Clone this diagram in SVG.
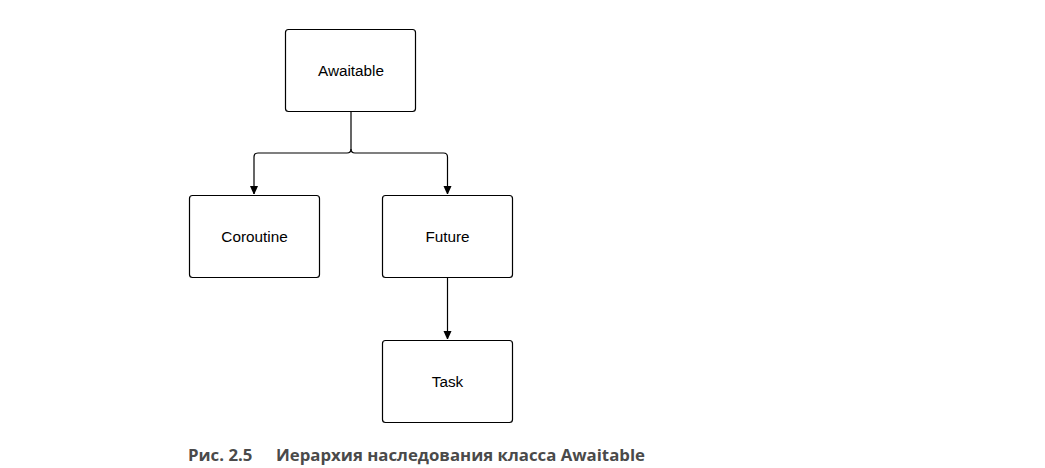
<svg xmlns="http://www.w3.org/2000/svg" width="1045" height="468" viewBox="0 0 1045 468">
<style>
.box{fill:#fff;stroke:#000;stroke-width:1.2}
.lbl{font-family:"Liberation Sans",Arial,sans-serif;font-size:15.3px;fill:#000;text-anchor:middle}
.edge{fill:none;stroke:#000;stroke-width:1.2}
.cap{font-family:"Open Sans","Noto Sans",sans-serif;font-weight:bold;font-size:16.8px;fill:#4a4a4a}
</style>
<defs>
<marker id="arr" markerWidth="8" markerHeight="12" refX="8" refY="5" orient="auto" markerUnits="userSpaceOnUse">
<path d="M0,1 L9,5 L0,9 Z" fill="#000"/>
</marker>
</defs>
<rect width="1045" height="468" fill="#fff"/>
<g id="connectors">
<path class="edge" d="M351,111 V149 Q351,153 347,153 H258 Q254,153 254,157 V194" marker-end="url(#arr)"/>
<path class="edge" d="M351,149 Q351,153 355,153 H443.5 Q447.5,153 447.5,157 V194" marker-end="url(#arr)"/>
<path class="edge" d="M447.5,277 V339" marker-end="url(#arr)"/>
</g>
<g id="awaitable"><rect class="box" x="285.5" y="29.5" width="130" height="82" rx="3"/><text class="lbl" x="351" y="76">Awaitable</text></g>
<g id="coroutine"><rect class="box" x="189.5" y="195.5" width="130" height="82" rx="3"/><text class="lbl" x="254.5" y="242">Coroutine</text></g>
<g id="future"><rect class="box" x="382.5" y="195.5" width="130" height="82" rx="3"/><text class="lbl" x="447.5" y="242">Future</text></g>
<g id="task"><rect class="box" x="382.5" y="340.5" width="130" height="82" rx="3"/><text class="lbl" x="447.5" y="387">Task</text></g>
<g id="caption"><text class="cap" x="188" y="461">Рис. 2.5<tspan x="276">Иерархия наследования класса Awaitable</tspan></text></g>
</svg>
